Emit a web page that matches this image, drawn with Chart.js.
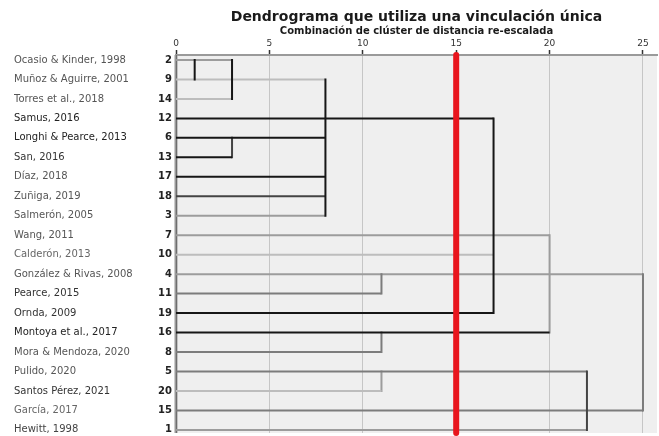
<!DOCTYPE html>
<html>
<head>
<meta charset="utf-8">
<script src="https://cdn.jsdelivr.net/npm/chart.js@4.4.1/dist/chart.umd.min.js"></script>
<style>
  html, body { margin: 0; padding: 0; background: #ffffff; }
  #wrap { width: 659px; height: 436px; }
</style>
</head>
<body>
<div id="wrap"><canvas id="dendro" width="659" height="436"></canvas></div>
<script>
// Studies in dendrogram order (top to bottom)
const caseNames = [
  "Ocasio & Kinder, 1998",
  "Muñoz & Aguirre, 2001",
  "Torres et al., 2018",
  "Samus, 2016",
  "Longhi & Pearce, 2013",
  "San, 2016",
  "Díaz, 2018",
  "Zuñiga, 2019",
  "Salmerón, 2005",
  "Wang, 2011",
  "Calderón, 2013",
  "González & Rivas, 2008",
  "Pearce, 2015",
  "Ornda, 2009",
  "Montoya et al., 2017",
  "Mora & Mendoza, 2020",
  "Pulido, 2020",
  "Santos Pérez, 2021",
  "García, 2017",
  "Hewitt, 1998"
];
const caseIds = [2, 9, 14, 12, 6, 13, 17, 18, 3, 7, 10, 4, 11, 19, 16, 8, 5, 20, 15, 1];

// Rescaled distance where each case's horizontal branch ends
const rowEnds = [3, 8, 3, 17, 8, 3, 8, 8, 8, 20, 17, 25, 11, 17, 20, 11, 22, 11, 25, 22];

// Vertical joins: distance, first row, last row (rows numbered from 1)
const joinDistances = [1, 3, 3, 8, 17, 20, 11, 11, 11, 22, 25];
const joinFromRows  = [1, 1, 5, 2, 4, 10, 12, 15, 17, 17, 12];
const joinToRows    = [2, 3, 6, 9, 14, 15, 13, 16, 18, 20, 19];

const axisTicks = [0, 5, 10, 15, 20, 25];
const cutoffDistance = 15;

// ---- styling ----
const FONT = "'DejaVu Sans', Verdana, sans-serif";
const DARK = '#161616', MIDDARK = '#444444', MID = '#7c7c7c', GREY = '#9c9c9c', LIGHT = '#bdbdbd';
const rowTone = [GREY, LIGHT, LIGHT, DARK, DARK, DARK, DARK, MIDDARK, GREY, GREY,
                 LIGHT, GREY, MID, DARK, DARK, MID, MID, LIGHT, MID, GREY];
const joinTone = [DARK, DARK, MIDDARK, DARK, DARK, GREY, MID, MID, GREY, MIDDARK, MID];
const nameTone = ['#555', '#555', '#555', '#222', '#222', '#333', '#555', '#555', '#555', '#555',
                  '#666', '#555', '#333', '#333', '#222', '#555', '#555', '#333', '#666', '#444'];

const Y_MIN = 0.743, Y_MAX = 20.16, X_MAX = 25.75;

function toneOrder(c) { return c === DARK ? 1 : c === MIDDARK ? 2 : c === MID ? 3 : 4; }

const datasets = [];
rowEnds.forEach((end, i) => {
  datasets.push({
    data: [{ x: 0, y: i + 1 }, { x: end, y: i + 1 }],
    borderColor: rowTone[i], borderWidth: 2, borderCapStyle: 'butt',
    order: toneOrder(rowTone[i])
  });
});
joinDistances.forEach((d, k) => {
  datasets.push({
    data: [{ x: d, y: joinFromRows[k] }, { x: d, y: joinToRows[k] }],
    borderColor: joinTone[k], borderWidth: 2, borderCapStyle: 'square',
    order: toneOrder(joinTone[k])
  });
});
// cut-off line
datasets.push({
  data: [{ x: cutoffDistance, y: Y_MIN }, { x: cutoffDistance, y: Y_MAX }],
  borderColor: '#e8151d', borderWidth: 6, borderCapStyle: 'round',
  clip: false, order: 0
});
datasets.forEach(ds => {
  ds.showLine = true; ds.pointRadius = 0; ds.pointHoverRadius = 0; ds.fill = false;
  ds.tension = 0; ds.xAxisID = 'x'; ds.yAxisID = 'yNum';
});

const plotFrame = {
  id: 'plotFrame',
  beforeDraw(chart) {
    const { ctx, chartArea: a } = chart;
    ctx.save();
    ctx.fillStyle = '#efefef';
    ctx.fillRect(a.left, a.top, a.right - a.left, a.bottom - a.top);
    ctx.restore();
  },
  beforeDatasetsDraw(chart) {
    const { ctx, chartArea: a } = chart;
    ctx.save();
    ctx.strokeStyle = '#9a9a9a';
    ctx.lineWidth = 3;
    ctx.beginPath();
    ctx.moveTo(a.left, a.top);
    ctx.lineTo(a.left, a.bottom);
    ctx.stroke();
    ctx.strokeStyle = '#6e6e6e';
    ctx.lineWidth = 1;
    ctx.beginPath();
    ctx.moveTo(a.left + 0.5, a.top);
    ctx.lineTo(a.left + 0.5, a.bottom);
    ctx.stroke();
    ctx.restore();
  }
};

function noEdgePadding(s) {
  s.paddingTop = 0; s.paddingBottom = 0; s.paddingLeft = 0; s.paddingRight = 0;
}

new Chart(document.getElementById('dendro'), {
  type: 'scatter',
  data: { datasets },
  plugins: [plotFrame],
  options: {
    responsive: false,
    animation: false,
    devicePixelRatio: 1,
    events: [],
    layout: { padding: { left: 14, right: 2, top: 0, bottom: 3 } },
    plugins: {
      legend: { display: false },
      tooltip: { enabled: false },
      title: {
        display: true,
        text: 'Dendrograma que utiliza una vinculación única',
        fullSize: false,
        color: '#1a1a1a',
        font: { family: FONT, size: 14, weight: 'bold', lineHeight: 1.2 },
        padding: { top: 8.6, bottom: 0 }
      },
      subtitle: {
        display: true,
        text: 'Combinación de clúster de distancia re-escalada',
        fullSize: false,
        color: '#1a1a1a',
        font: { family: FONT, size: 10, weight: 'bold', lineHeight: 1.2 },
        padding: { top: 0.1, bottom: 0.5 }
      }
    },
    scales: {
      x: {
        type: 'linear',
        position: 'top',
        min: 0,
        max: X_MAX,
        afterBuildTicks: s => { s.ticks = axisTicks.map(v => ({ value: v })); },
        afterFit: s => { s.height = 17; noEdgePadding(s); },
        grid: {
          color: ctx => (ctx.tick && (ctx.tick.value === 0 || ctx.tick.value === cutoffDistance)) ? 'rgba(0,0,0,0)' : '#c6c6c6',
          borderDash: [2, 3],
          lineWidth: 1,
          drawTicks: true,
          tickLength: 5,
          tickColor: '#333333',
          tickWidth: 1.5,
          tickBorderDash: []
        },
        border: { display: true, color: '#9a9a9a', width: 2 },
        ticks: {
          padding: 1,
          color: '#333333',
          font: { family: FONT, size: 9 },
          maxRotation: 0,
          autoSkip: false
        }
      },
      yNum: {
        type: 'linear',
        position: 'left',
        reverse: true,
        min: Y_MIN,
        max: Y_MAX,
        weight: 0,
        afterBuildTicks: s => { s.ticks = caseIds.map((_, i) => ({ value: i + 1 })); },
        afterFit: s => { s.width = 34; noEdgePadding(s); },
        grid: { display: false, drawTicks: false },
        border: { display: false },
        ticks: {
          autoSkip: false,
          padding: 4,
          color: '#222222',
          font: { family: FONT, size: 10, weight: 'bold' },
          callback: v => String(caseIds[Math.round(v) - 1])
        }
      },
      yName: {
        type: 'linear',
        position: 'left',
        reverse: true,
        min: Y_MIN,
        max: Y_MAX,
        weight: 1,
        afterBuildTicks: s => { s.ticks = caseNames.map((_, i) => ({ value: i + 1 })); },
        afterFit: s => { s.width = 128; noEdgePadding(s); },
        grid: { display: false, drawTicks: false },
        border: { display: false },
        ticks: {
          autoSkip: false,
          padding: 0,
          crossAlign: 'far',
          color: ctx => nameTone[ctx.index] || '#555',
          font: { family: FONT, size: 10 },
          callback: v => caseNames[Math.round(v) - 1]
        }
      }
    }
  }
});
</script>
</body>
</html>
